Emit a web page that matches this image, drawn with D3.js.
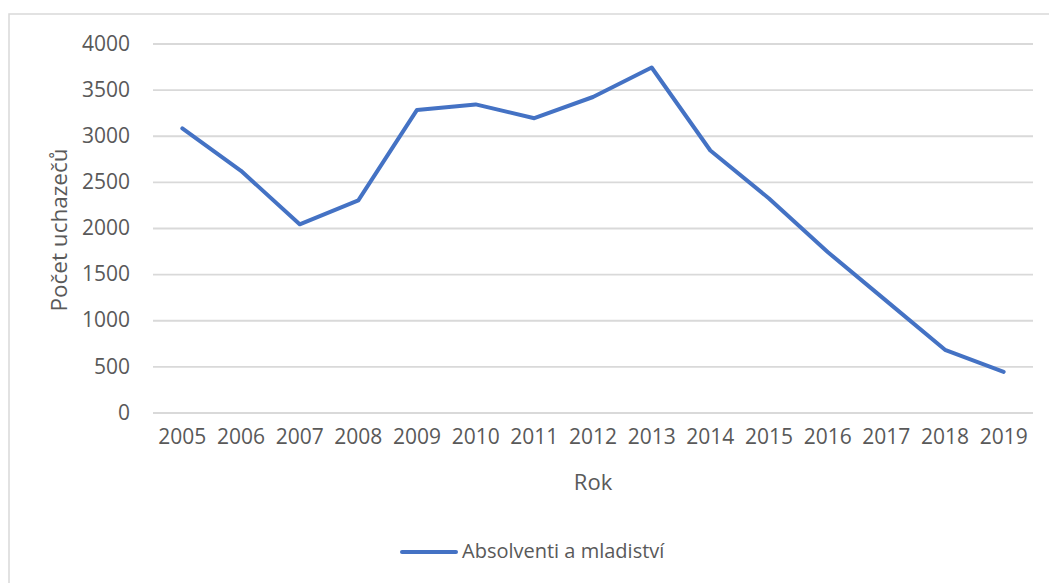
<!DOCTYPE html>
<html><head><meta charset="utf-8">
<script src="https://cdn.jsdelivr.net/npm/d3@7"></script>
<style>body{margin:0;background:#fff}svg{display:block}text{font-family:"Open Sans",sans-serif;fill:#595959}</style>
</head><body><svg id="c" width="1049" height="583"></svg>
<script>
const years = ["2005","2006","2007","2008","2009","2010","2011","2012","2013","2014","2015","2016","2017","2018","2019"];
const values = [3080,2620,2040,2300,3280,3340,3190,3420,3740,2840,2320,1740,1210,680,440];
const yTicks = [0,500,1000,1500,2000,2500,3000,3500,4000];
const seriesName = "Absolventi a mladiství";
const yTitle = "Počet uchazečů";
const xTitle = "Rok";

const svg = d3.select("#c");
// chart border (cut off at right/bottom)
svg.append("rect").attr("x",9).attr("y",14).attr("width",1100).attr("height",700)
  .attr("fill","none").attr("stroke","#d9d9d9").attr("stroke-width",1.5);

const x = d3.scaleBand().domain(years).range([153,1033]);
const y = d3.scaleLinear().domain([0,4000]).range([412.5,43.5]);

const gy = svg.append("g").attr("transform","translate(153,0)")
  .call(d3.axisLeft(y).tickValues(yTicks).tickSize(-880).tickPadding(23).tickFormat(d3.format("d")));
gy.select(".domain").remove();
gy.selectAll(".tick line").attr("stroke","#d9d9d9").attr("stroke-width",1.8);
gy.selectAll(".tick text").style("font-size","21px").attr("fill","#595959");

const gx = svg.append("g").attr("transform","translate(0,412.5)")
  .call(d3.axisBottom(x).tickSize(0).tickPadding(17));
gx.select(".domain").remove();
gx.selectAll(".tick text").style("font-size","21px").attr("fill","#595959");

const line = d3.line().x((d,i)=>x(years[i])+x.bandwidth()/2).y(d=>y(d));
svg.append("path").datum(values).attr("d",line).attr("fill","none")
  .attr("stroke","#4472C4").attr("stroke-width",4).attr("stroke-linejoin","round").attr("stroke-linecap","round");

svg.append("text").attr("transform","translate(67,230) rotate(-90)").attr("text-anchor","middle")
  .style("font-size","22.5px").text(yTitle);
svg.append("text").attr("x",593).attr("y",490).attr("text-anchor","middle")
  .style("font-size","22px").text(xTitle);

svg.append("line").attr("x1",402).attr("x2",456).attr("y1",552).attr("y2",552)
  .attr("stroke","#4472C4").attr("stroke-width",4).attr("stroke-linecap","round");
svg.append("text").attr("x",462).attr("y",558).style("font-size","20px").text(seriesName);
</script></body></html>
